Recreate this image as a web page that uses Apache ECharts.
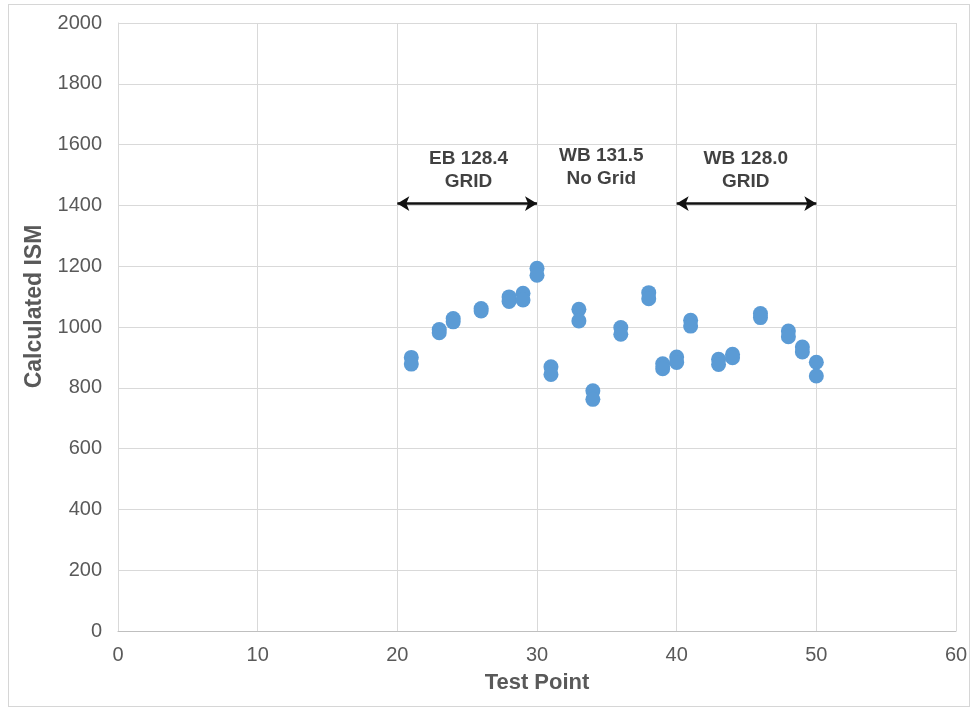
<!DOCTYPE html>
<html>
<head>
<meta charset="utf-8">
<script src="https://cdn.jsdelivr.net/npm/echarts@6/dist/echarts.min.js"></script>
<style>
  html, body { margin: 0; padding: 0; background: #fff; }
  #frame {
    position: absolute; left: 8px; top: 4px; width: 962px; height: 703px;
    border: 1px solid #d6d6d6; box-sizing: border-box;
  }
  #main { position: absolute; left: 0; top: 0; width: 973px; height: 712px; }
</style>
</head>
<body>
<div id="frame"></div>
<div id="main"></div>
<script>
// test points (each appears twice, two readings per point)
const testPoints = [21, 21, 23, 23, 24, 24, 26, 26, 28, 28, 29, 29, 30, 30, 31, 31,
  33, 33, 34, 34, 36, 36, 38, 38, 39, 39, 40, 40, 41, 41, 43, 43, 44, 44,
  46, 46, 48, 48, 49, 49, 50, 50];
const ismValues = [900, 878, 992, 981, 1028, 1017, 1061, 1053, 1099, 1084, 1111, 1089, 1193, 1170, 869, 844,
  1058, 1020, 790, 762, 998, 976, 1113, 1093, 879, 863, 901, 883, 1022, 1003, 894, 877, 910, 899,
  1044, 1031, 987, 968, 934, 918, 884, 839];

// annotation text and the ranges the arrows cover
const noteText = ["EB 128.4\nGRID", "WB 131.5\nNo Grid", "WB 128.0\nGRID"];
const noteX = [25.1, 34.6, 44.95];
const noteY = [1517, 1527, 1515];
const arrowRanges = [[20, 30], [40, 50]];
const arrowY = 1406;

const xTicks = [0, 10, 20, 30, 40, 50, 60];

let myChart = echarts.init(document.getElementById("main"));

let points = testPoints.map((x, i) => [x, ismValues[i]]);
let notes = noteText.map((t, i) => ({ value: [noteX[i], noteY[i]], label: { formatter: t } }));
let arrows = arrowRanges.map(r => [{ coord: [r[0], arrowY] }, { coord: [r[1], arrowY] }]);

let option = {
  animation: false,
  grid: { left: 118, right: 17, top: 23, bottom: 81 },
  xAxis: {
    type: "value",
    min: xTicks[0],
    max: xTicks[xTicks.length - 1],
    interval: 10,
    name: "Test Point",
    nameLocation: "middle",
    nameGap: 41,
    nameTextStyle: { fontFamily: "Liberation Sans", fontSize: 22, fontWeight: "bold", color: "#595959" },
    axisLine: { show: true, lineStyle: { color: "#bfbfbf", width: 1 } },
    axisTick: { show: false },
    axisLabel: { fontFamily: "Liberation Sans", fontSize: 20, color: "#595959", margin: 14 },
    splitLine: { show: true, lineStyle: { color: "#d9d9d9", width: 1 } },
  },
  yAxis: {
    type: "value",
    min: 0,
    max: 2000,
    interval: 200,
    name: "Calculated ISM",
    nameLocation: "middle",
    nameGap: 70,
    nameTextStyle: {
      fontFamily: "Liberation Sans", fontSize: 23, fontWeight: "bold", color: "#595959",
      padding: [0, 0, 0, 41],
    },
    axisLine: { show: true, lineStyle: { color: "#d9d9d9", width: 1 } },
    axisTick: { show: false },
    axisLabel: {
      fontFamily: "Liberation Sans", fontSize: 20, color: "#595959", margin: 16,
      formatter: v => String(v),
    },
    splitLine: { show: true, lineStyle: { color: "#d9d9d9", width: 1 } },
  },
  series: [
    {
      name: "ISM",
      type: "scatter",
      data: points,
      symbolSize: 15,
      itemStyle: { color: "#5b9bd5", opacity: 1 },
      markLine: {
        silent: true,
        symbol: ["arrow", "arrow"],
        symbolSize: [11, 12],
        label: { show: false },
        lineStyle: { color: "#111", width: 2.5, type: "solid" },
        data: arrows,
      },
    },
    {
      name: "notes",
      type: "scatter",
      data: notes,
      symbolSize: 0,
      silent: true,
      label: {
        show: true,
        position: "inside",
        fontFamily: "Liberation Sans",
        fontSize: 19,
        fontWeight: "bold",
        color: "#111",
        lineHeight: 23,
        align: "center",
      },
    },
  ],
};
myChart.setOption(option);
</script>
</body>
</html>
